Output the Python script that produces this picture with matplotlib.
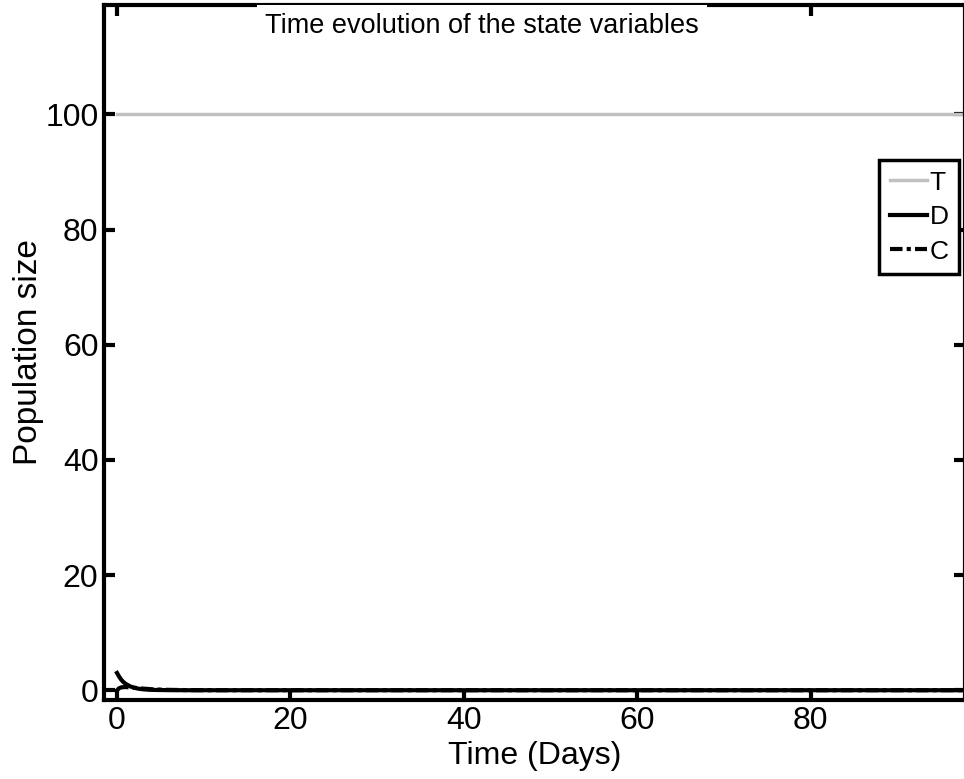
import matplotlib
matplotlib.use("Agg")
import matplotlib.pyplot as plt

plt.rcParams['font.family'] = ['Liberation Sans', 'DejaVu Sans']

t_T = [0, 100]
T_vals = [100, 100]

t_D = [0, 0.25, 0.5, 0.75, 1, 1.5, 2, 2.5, 3, 3.5, 4, 5, 6, 8, 10, 20, 40, 60, 80, 100]
D_vals = [3.0, 2.35, 1.8, 1.4, 1.1, 0.68, 0.42, 0.26, 0.16, 0.1, 0.06, 0.03, 0.01, 0.0, 0.0, 0.0, 0.0, 0.0, 0.0, 0.0]

t_C = [0, 0.25, 0.5, 1, 1.5, 2, 3, 4, 5, 6, 8, 10, 20, 40, 60, 80, 100]
C_vals = [0.0, 0.35, 0.5, 0.55, 0.5, 0.42, 0.28, 0.17, 0.1, 0.06, 0.02, 0.0, 0.0, 0.0, 0.0, 0.0, 0.0]

xticks = [0, 20, 40, 60, 80]
yticks = [0, 20, 40, 60, 80, 100]

fig = plt.figure(figsize=(9.64, 7.79), dpi=100)
ax = fig.add_axes([104/964, 1 - 700/779, (965-104)/964, (700-5)/779])
fig.patch.set_facecolor('white')

ax.plot(t_T, T_vals, color='#c0c0c0', lw=2.5, label='T')
ax.plot(t_D, D_vals, color='black', lw=3, label='D')
ax.plot(t_C, C_vals, color='black', lw=3, ls=(0, (3, 1, 1, 1)), label='C')

ax.set_xlim(-1.5, 97.8)
ax.set_ylim(-1.7, 119)
ax.set_xticks(xticks)
ax.set_yticks(yticks)
ax.tick_params(direction='in', length=8, width=3, labelsize=23, top=True, right=True, pad=4)
for s in ax.spines.values():
    s.set_linewidth(3)

ax.set_xlabel('Time (Days)', fontsize=23, labelpad=4)
ax.set_ylabel('Population size', fontsize=24, labelpad=1)

ax.text(0.439, 0.988, 'Time evolution of the state variables', transform=ax.transAxes,
        ha='center', va='top', fontsize=19.5,
        bbox=dict(facecolor='white', edgecolor='none', pad=6))

leg = ax.legend(loc='upper right', bbox_to_anchor=(0.993, 0.777), fontsize=19,
                frameon=True, fancybox=False, edgecolor='black', framealpha=1,
                handlelength=1.4, handletextpad=0.1, labelspacing=0.4,
                borderpad=0.4, borderaxespad=0)
leg.get_frame().set_linewidth(2.5)

fig.savefig('out.png', dpi=100)
